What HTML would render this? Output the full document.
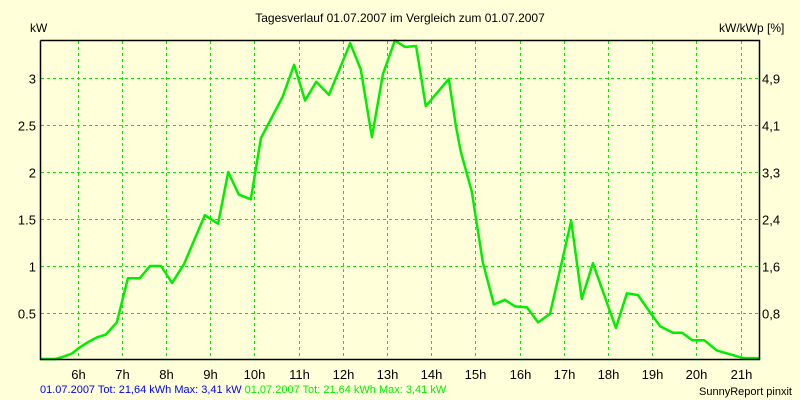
<!DOCTYPE html>
<html><head><meta charset="utf-8"><style>
body{margin:0;background:#ffffd9;}
svg{display:block;font-family:"Liberation Sans",sans-serif;}
</style></head><body>
<svg id="chart" width="800" height="400" viewBox="0 0 800 400">
<rect width="800" height="400" fill="#ffffd9"/>
<text x="400" y="22" text-anchor="middle" font-size="12" fill="#000">Tagesverlauf 01.07.2007 im Vergleich zum 01.07.2007</text>
<text x="30" y="32" font-size="12" fill="#000">kW</text>
<text x="719" y="32" font-size="12" fill="#000">kW/kWp [%]</text>
<g id="grid"></g>
<g id="ticks"></g>
<path id="series" fill="none" stroke="#00ee00" stroke-width="2.5" stroke-linejoin="round"/>
<path d="M40.5 40.5V359.5H759.5V40.5H40.5" fill="none" stroke="#000" stroke-width="1.5"/>
<text x="40" y="393" font-size="11"><tspan fill="#0000ff">01.07.2007 Tot: 21,64 kWh Max: 3,41 kW</tspan><tspan fill="#00ee00"> 01.07.2007 Tot: 21,64 kWh Max: 3,41 kW</tspan></text>
<text x="792" y="395" text-anchor="end" font-size="11" fill="#000">SunnyReport pinxit</text>
</svg>
<script>
const hours = [5.15,5.49,5.65,5.88,6.01,6.24,6.44,6.64,6.89,7.14,7.41,7.64,7.89,8.14,8.41,8.88,9.18,9.41,9.65,9.92,10.15,10.64,10.90,11.15,11.40,11.69,12.17,12.41,12.66,12.91,13.18,13.41,13.66,13.88,14.40,14.56,14.67,14.92,15.17,15.42,15.67,15.90,16.17,16.42,16.69,17.17,17.41,17.66,18.18,18.43,18.68,18.95,19.18,19.47,19.68,19.91,20.18,20.47,21.06,21.44];
const power = [0,0,0.03,0.07,0.12,0.19,0.24,0.27,0.40,0.87,0.87,1.0,1.0,0.82,1.02,1.54,1.45,2.0,1.76,1.71,2.36,2.80,3.14,2.76,2.96,2.82,3.37,3.09,2.37,3.04,3.40,3.33,3.34,2.70,2.99,2.49,2.22,1.79,1.04,0.59,0.64,0.57,0.56,0.40,0.49,1.48,0.65,1.03,0.34,0.71,0.69,0.51,0.36,0.29,0.29,0.21,0.21,0.10,0.02,0.02];
const leftTicks = [0.5,1,1.5,2,2.5,3];
const leftTickLabels = ["0.5","1","1.5","2","2.5","3"];
const rightTickLabels = ["0,8","1,6","2,4","3,3","4,1","4,9"];
const hourTicks = [6,7,8,9,10,11,12,13,14,15,16,17,18,19,20,21];
const xs = h => 77.5 + (h - 6) * 44.2;
const ys = v => 360 - v * 94;
const NS = "http://www.w3.org/2000/svg";
const grid = document.getElementById('grid');
const ticks = document.getElementById('ticks');
leftTicks.forEach((v, i) => {
  const y = Math.round(ys(v)) + 0.5;
  const l = document.createElementNS(NS, 'line');
  
  
  l.setAttribute('x1', 41); l.setAttribute('x2', 759); l.setAttribute('y1', y); l.setAttribute('y2', y);
  l.setAttribute('stroke', '#00ee00'); l.setAttribute('stroke-dasharray', '3,3');
  grid.appendChild(l);
  const t = document.createElementNS(NS, 'text');
  
  
  t.setAttribute('x', 36); t.setAttribute('y', y + 5); t.setAttribute('text-anchor', 'end'); t.setAttribute('font-size', '13');
  t.textContent = leftTickLabels[i];
  ticks.appendChild(t);
  const r = document.createElementNS(NS, 'text');
  
  
  r.setAttribute('x', 762); r.setAttribute('y', y + 5); r.setAttribute('font-size', '13');
  r.textContent = rightTickLabels[i];
  ticks.appendChild(r);
});
hourTicks.forEach(h => {
  const x = Math.round(xs(h)) + 0.5;
  const l = document.createElementNS(NS, 'line');
  
  
  l.setAttribute('x1', x); l.setAttribute('x2', x); l.setAttribute('y1', 41); l.setAttribute('y2', 359);
  l.setAttribute('stroke', '#00ee00'); l.setAttribute('stroke-dasharray', '3,3');
  grid.appendChild(l);
  const t = document.createElementNS(NS, 'text');
  
  
  t.setAttribute('x', x); t.setAttribute('y', 379); t.setAttribute('text-anchor', 'middle'); t.setAttribute('font-size', '13');
  t.textContent = h + 'h';
  ticks.appendChild(t);
});
document.getElementById('series').setAttribute('d', hours.map((h, i) => (i ? 'L' : 'M') + xs(h).toFixed(1) + ' ' + Math.min(359, ys(power[i])).toFixed(1)).join(' '));
</script>
</body></html>
